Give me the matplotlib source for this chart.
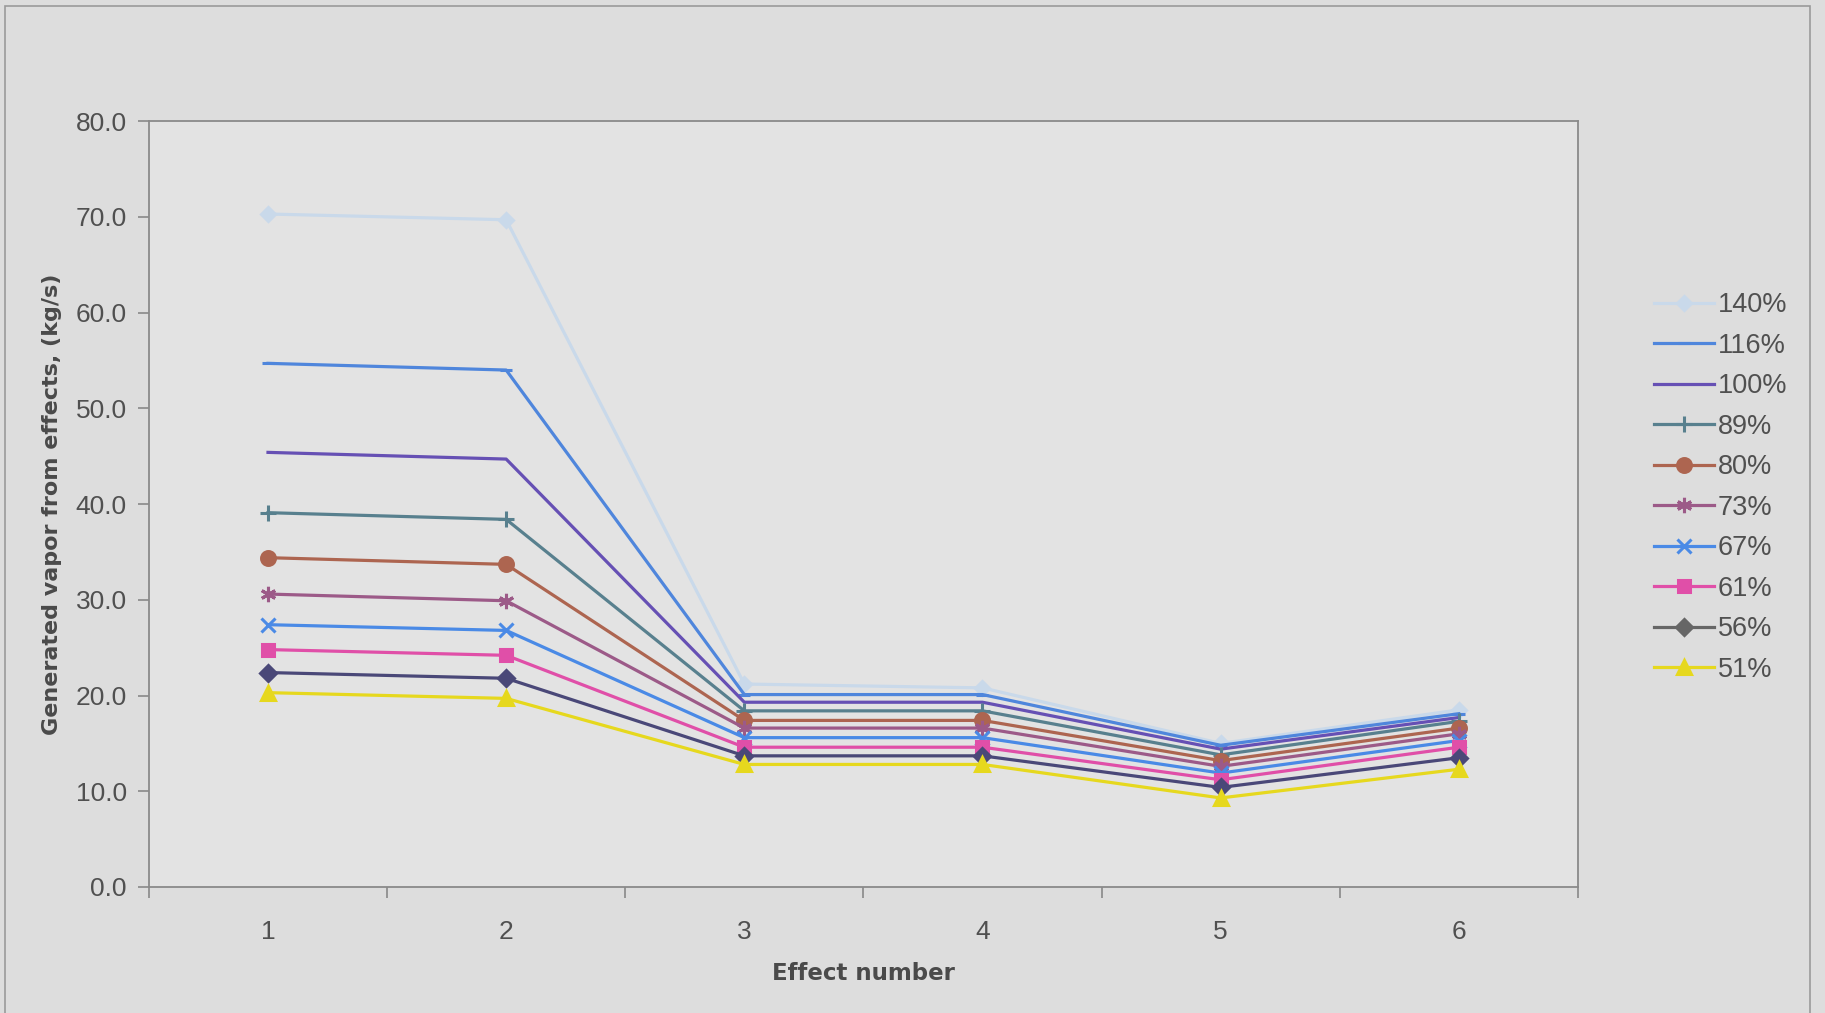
import numpy as np
import matplotlib
matplotlib.use("Agg")
import matplotlib.pyplot as plt
from matplotlib.patches import Rectangle

plt.rcParams["font.family"] = ["Liberation Sans", "DejaVu Sans"]

# generated vapor per effect (kg/s) for each load case
effects = [1, 2, 3, 4, 5, 6]
loads = ["140%", "116%", "100%", "89%", "80%", "73%", "67%", "61%", "56%", "51%"]
v140 = [70.3, 69.7, 21.2, 20.8, 15.0, 18.5]
v116 = [54.7, 54.0, 20.1, 20.1, 14.8, 18.1]
v100 = [45.4, 44.7, 19.3, 19.3, 14.4, 17.7]
v89 = [39.1, 38.4, 18.4, 18.4, 13.8, 17.3]
v80 = [34.4, 33.7, 17.4, 17.4, 13.2, 16.6]
v73 = [30.6, 29.9, 16.6, 16.6, 12.6, 16.0]
v67 = [27.4, 26.8, 15.6, 15.6, 11.9, 15.3]
v61 = [24.8, 24.2, 14.6, 14.6, 11.2, 14.6]
v56 = [22.4, 21.8, 13.7, 13.7, 10.4, 13.5]
v51 = [20.3, 19.7, 12.8, 12.8, 9.3, 12.3]
series = [v140, v116, v100, v89, v80, v73, v67, v61, v56, v51]

colors = ["#c9d9ea", "#4f86dc", "#6650b4", "#58808e", "#ad6550",
          "#9c5a88", "#4a8ae6", "#e04fa8", "#4a4878", "#e6d81e"]
markers = ["D", "_", None, "+", "o", (6, 2, 0), "x", "s", "D", "^"]
msizes = [7, 9, 0, 12, 10, 11, 10, 9, 8, 10]
legend_colors = colors[:8] + ["#666666", colors[9]]

fig = plt.figure(figsize=(18.25, 10.13), dpi=100)
fig.patch.set_facecolor("#dddddd")
ax = fig.add_axes([0.0816, 0.1244, 0.783, 0.756])
ax.set_facecolor("#e3e3e3")

for i in range(len(series)):
    ax.plot(effects, series[i], color=colors[i], marker=markers[i], markersize=msizes[i],
            markeredgewidth=2.2, lw=2.3, label=loads[i], zorder=3 + i)

ax.set_xlim(0.5, 6.5)
ax.set_ylim(0, 80)
ax.set_yticks(np.arange(0, 81, 10))
ax.set_yticklabels(["%.1f" % t for t in np.arange(0, 81, 10)])
ax.set_xticks(effects)
ax.set_xticks(np.arange(0.5, 6.6, 1), minor=True)
ax.tick_params(axis="x", which="major", length=0, pad=24, labelsize=19, labelcolor="#505050")
ax.tick_params(axis="x", which="minor", length=8, width=1.2, color="#888888", direction="out")
ax.tick_params(axis="y", length=8, width=1.2, color="#888888", pad=8, labelsize=19,
               labelcolor="#505050")
for s in ax.spines.values():
    s.set_color("#8a8a8a")
    s.set_linewidth(1.3)

ax.set_xlabel("Effect number", fontsize=16.5, fontweight="bold", color="#4a4a4a",
              family="DejaVu Sans", labelpad=13)
ax.set_ylabel("Generated vapor from effects, (kg/s)", fontsize=16, fontweight="bold",
              color="#4a4a4a", family="DejaVu Sans", labelpad=10)

leg = fig.legend(loc="upper left", bbox_to_anchor=(0.899, 0.725), frameon=False,
                 fontsize=19.5, labelspacing=0.535, handlelength=2.2, handletextpad=0.15,
                 borderpad=0)
for t in leg.get_texts():
    t.set_color("#505050")
for h, c in zip(leg.legend_handles, legend_colors):
    h.set_color(c)

# outer chart frame
fig.add_artist(Rectangle((0.003, -0.05), 0.989, 1.044, transform=fig.transFigure,
                         fill=False, edgecolor="#9a9a9a", lw=1.2))

fig.savefig("out.png", dpi=100, facecolor=fig.get_facecolor())
